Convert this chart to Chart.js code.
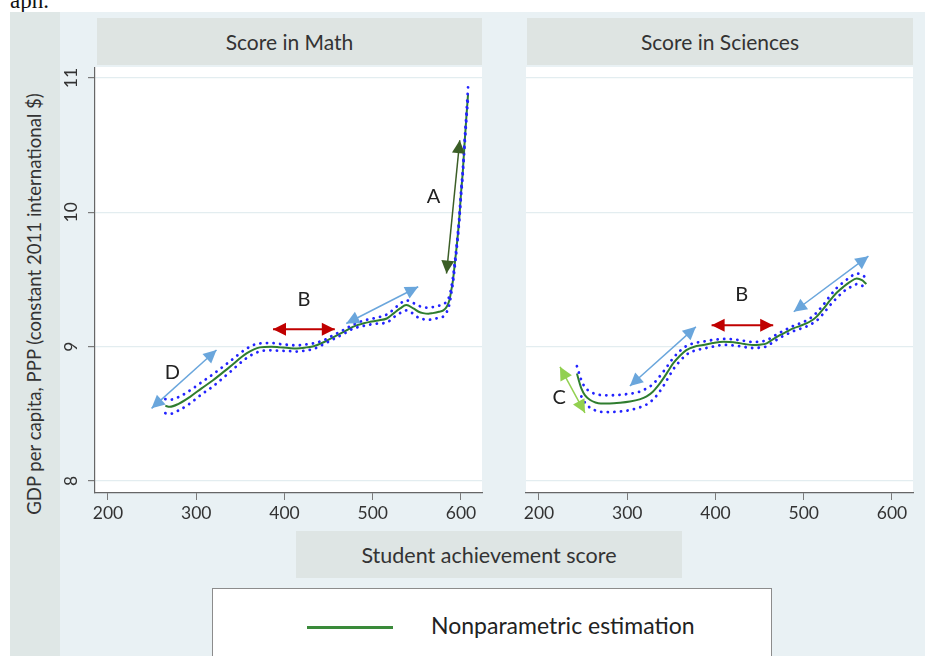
<!DOCTYPE html>
<html>
<head>
<meta charset="utf-8">
<script src="https://cdn.jsdelivr.net/npm/chart.js@4.4.1/dist/chart.umd.min.js"></script>
<style>
  html, body { margin: 0; padding: 0; background: #ffffff; width: 925px; height: 656px; overflow: hidden; position: relative; font-family: Lato, "Open Sans", sans-serif; }
  .abs { position: absolute; }
  #cut { left: 10px; top: -11px; font: 23px "Liberation Serif", serif; line-height: 23px; color: #111; }
  #fig { left: 10px; top: 12px; width: 915px; height: 644px; background: #e9f1f4; }
  #ybox { left: 10px; top: 12px; width: 50px; height: 644px; background: #dfe7e6; }
  #ytitle { left: 34px; top: 304px; transform: translate(-50%, -50%) rotate(-90deg); white-space: nowrap; font-size: 18.6px; color: #333; }
  .hdr { top: 18px; height: 47px; background: #dee4e2; color: #333; font-size: 21px; display: flex; align-items: center; justify-content: center; }
  .white { top: 67px; height: 426px; background: #ffffff; }
  #xbox { left: 296px; top: 531px; width: 386px; height: 47px; background: #dee5e4; color: #333; font-size: 21.5px; display: flex; align-items: center; justify-content: center; }
  #legend { left: 212px; top: 588px; width: 558px; height: 90px; background: #ffffff; border: 1px solid #8c8c8c; }
  #legline { left: 94px; top: 37px; width: 86px; height: 3px; background: #3a8a3a; }
  #legtext { left: 218px; top: 22px; font-size: 23px; color: #222; white-space: nowrap; }
  canvas { position: absolute; }
</style>
</head>
<body>
<div class="abs" id="cut">aph.</div>
<div class="abs" id="fig"></div>
<div class="abs" id="ybox"></div>
<div class="abs" id="ytitle">GDP per capita, PPP (constant 2011 international $)</div>
<div class="abs hdr" style="left:97px;width:385px;">Score in Math</div>
<div class="abs hdr" style="left:527px;width:386px;">Score in Sciences</div>
<div class="abs white" style="left:95px;width:387px;"></div>
<div class="abs white" style="left:526px;width:387px;"></div>
<div class="abs" id="xbox">Student achievement score</div>
<div class="abs" id="legend">
  <div class="abs" id="legline"></div>
  <div class="abs" id="legtext">Nonparametric estimation</div>
</div>
<canvas id="cMath" width="425" height="463" style="left:60px;top:67px;width:425px;height:463px;"></canvas>
<canvas id="cSci" width="425" height="463" style="left:491px;top:67px;width:425px;height:463px;"></canvas>
<script>
// ---------- data ----------
const xTicks = [200, 300, 400, 500, 600];
const yTicks = [8, 9, 10, 11];

const mathX     = [265, 270, 280, 293, 306, 319, 338, 357, 372, 385, 395, 405, 414, 425, 433, 445, 455, 467, 478, 490, 497, 506, 516, 524, 531, 538, 546, 552, 557, 563, 568, 575, 580, 584, 587, 589, 591, 593, 595, 598, 600, 602, 604, 606, 608];
const mathFit   = [8.56, 8.553, 8.575, 8.627, 8.69, 8.75, 8.85, 8.95, 8.995, 9.0, 8.995, 8.99, 8.987, 8.995, 9.004, 9.035, 9.07, 9.11, 9.15, 9.175, 9.185, 9.195, 9.21, 9.25, 9.285, 9.31, 9.285, 9.26, 9.25, 9.245, 9.25, 9.26, 9.27, 9.3, 9.35, 9.42, 9.5, 9.62, 9.74, 9.95, 10.14, 10.3, 10.51, 10.7, 10.88];
const mathUpper = [8.61, 8.605, 8.625, 8.675, 8.735, 8.795, 8.89, 8.985, 9.025, 9.027, 9.02, 9.013, 9.01, 9.017, 9.025, 9.05, 9.085, 9.125, 9.165, 9.195, 9.205, 9.218, 9.24, 9.28, 9.32, 9.345, 9.325, 9.305, 9.295, 9.29, 9.295, 9.305, 9.315, 9.34, 9.38, 9.44, 9.52, 9.63, 9.75, 9.96, 10.15, 10.31, 10.52, 10.72, 10.93];
const mathLower = [8.505, 8.5, 8.525, 8.578, 8.645, 8.705, 8.81, 8.915, 8.965, 8.973, 8.97, 8.967, 8.964, 8.973, 8.983, 9.02, 9.055, 9.095, 9.135, 9.155, 9.165, 9.172, 9.18, 9.22, 9.25, 9.27, 9.245, 9.215, 9.205, 9.2, 9.205, 9.215, 9.225, 9.26, 9.32, 9.4, 9.48, 9.6, 9.72, 9.93, 10.12, 10.28, 10.49, 10.68, 10.85];

const sciX     = [243, 246, 248, 252, 258, 264, 270, 280, 292, 303, 314, 322, 329, 335, 341, 347, 352, 360, 367, 376, 386, 397, 409, 416, 424, 433, 443, 450, 458, 465, 473, 480, 488, 496, 503, 509, 514, 522, 530, 537, 545, 552, 560, 566, 571];
const sciFit   = [8.80, 8.73, 8.69, 8.64, 8.603, 8.585, 8.578, 8.578, 8.583, 8.592, 8.608, 8.63, 8.665, 8.71, 8.764, 8.825, 8.876, 8.935, 8.975, 9.0, 9.012, 9.027, 9.037, 9.035, 9.03, 9.02, 9.012, 9.015, 9.025, 9.055, 9.086, 9.11, 9.136, 9.155, 9.173, 9.195, 9.22, 9.28, 9.347, 9.4, 9.446, 9.48, 9.508, 9.495, 9.466];
const sciUpper = [8.855, 8.79, 8.75, 8.7, 8.665, 8.648, 8.64, 8.638, 8.642, 8.65, 8.665, 8.69, 8.72, 8.765, 8.815, 8.87, 8.915, 8.97, 9.005, 9.027, 9.038, 9.05, 9.058, 9.057, 9.052, 9.043, 9.035, 9.038, 9.048, 9.075, 9.104, 9.128, 9.154, 9.175, 9.195, 9.22, 9.25, 9.31, 9.38, 9.435, 9.48, 9.515, 9.545, 9.535, 9.51];
const sciLower = [null, null, 8.63, 8.585, 8.545, 8.525, 8.515, 8.513, 8.518, 8.528, 8.548, 8.57, 8.605, 8.65, 8.708, 8.775, 8.83, 8.895, 8.94, 8.97, 8.985, 9.0, 9.013, 9.012, 9.007, 8.997, 8.99, 8.993, 9.002, 9.033, 9.066, 9.09, 9.115, 9.133, 9.15, 9.17, 9.19, 9.245, 9.31, 9.36, 9.41, 9.44, 9.465, 9.455, 9.42];

// annotation arrows: [x1, y1, x2, y2] in data units, and their kinds
const mathArrows     = [[249.4, 8.541, 323, 8.975], [387, 9.13, 457, 9.13], [470, 9.173, 551.5, 9.446], [598.6, 10.537, 583.6, 9.545]];
const mathArrowKinds = ['blue', 'red', 'blue', 'dark'];
const mathLabels     = ['D', 'B', 'A'];
const mathLabelPos   = [[273, 8.81], [422, 9.35], [569, 10.115]];

const sciArrows      = [[223.8, 8.85, 252.1, 8.508], [303, 8.707, 377.8, 9.148], [395.6, 9.16, 465.4, 9.16], [488.7, 9.26, 573.3, 9.674]];
const sciArrowKinds  = ['light', 'blue', 'red', 'blue'];
const sciLabels      = ['C', 'B'];
const sciLabelPos    = [[223, 8.623], [429.6, 9.39]];

// ---------- styles ----------
const FONT = 'Lato, "Open Sans", sans-serif';
const arrowStyle = {
  blue:  { color: '#6aa6dc', width: 1.5 },
  red:   { color: '#c00000', width: 2 },
  dark:  { color: '#3b5e26', width: 1.5 },
  light: { color: '#92d050', width: 1.5 }
};

function pts(xs, ys) { return xs.map((x, i) => ({ x: x, y: ys[i] })); }

function arrowPlugin(arrows, kinds, labels, labelPos) {
  return {
    id: 'arrows',
    afterDatasetsDraw(chart) {
      const { ctx, scales: { x, y } } = chart;
      ctx.save();
      arrows.forEach((a, i) => {
        const st = arrowStyle[kinds[i]];
        const p1 = [x.getPixelForValue(a[0]), y.getPixelForValue(a[1])];
        const p2 = [x.getPixelForValue(a[2]), y.getPixelForValue(a[3])];
        [[p1, p2], [p2, p1]].forEach(([tip, from]) => {
          const ang = Math.atan2(tip[1] - from[1], tip[0] - from[0]);
          const L = 13, W = 6.5;
          ctx.beginPath();
          ctx.moveTo(tip[0], tip[1]);
          ctx.lineTo(tip[0] - L * Math.cos(ang) + W * Math.sin(ang), tip[1] - L * Math.sin(ang) - W * Math.cos(ang));
          ctx.lineTo(tip[0] - L * Math.cos(ang) - W * Math.sin(ang), tip[1] - L * Math.sin(ang) + W * Math.cos(ang));
          ctx.closePath();
          ctx.fillStyle = st.color;
          ctx.fill();
        });
      });
      ctx.fillStyle = '#222';
      ctx.font = '20px ' + FONT;
      ctx.textAlign = 'center';
      ctx.textBaseline = 'middle';
      labels.forEach((t, i) => {
        ctx.fillText(t, x.getPixelForValue(labelPos[i][0]), y.getPixelForValue(labelPos[i][1]));
      });
      ctx.restore();
    }
  };
}

function makeChart(id, X, fit, up, lo, arrows, kinds, labels, labelPos, showY) {
  const datasets = [
    { data: pts(X, up), borderColor: '#2323ff', borderWidth: 2.8, borderDash: [0.1, 6.5], borderCapStyle: 'round', pointRadius: 0, cubicInterpolationMode: 'monotone', spanGaps: false },
    { data: pts(X, lo), borderColor: '#2323ff', borderWidth: 2.8, borderDash: [0.1, 6.5], borderCapStyle: 'round', pointRadius: 0, cubicInterpolationMode: 'monotone', spanGaps: false },
    { data: pts(X, fit), borderColor: '#2f7d2f', borderWidth: 2, pointRadius: 0, cubicInterpolationMode: 'monotone' }
  ];
  arrows.forEach((a, i) => {
    const st = arrowStyle[kinds[i]];
    datasets.push({ data: [{ x: a[0], y: a[1] }, { x: a[2], y: a[3] }], borderColor: st.color, borderWidth: st.width, pointRadius: 0, tension: 0 });
  });
  return new Chart(document.getElementById(id), {
    type: 'line',
    data: { datasets: datasets },
    options: {
      responsive: false,
      animation: false,
      devicePixelRatio: 1,
      layout: { padding: { top: 0, right: 3, bottom: 0, left: 0 } },
      plugins: { legend: { display: false }, tooltip: { enabled: false }, title: { display: false } },
      elements: { line: { fill: false } },
      scales: {
        x: {
          type: 'linear', min: 185.3, max: 623.8,
          afterBuildTicks: s => { s.ticks = xTicks.map(v => ({ value: v })); },
          afterFit: s => { s.height = 37; s.paddingLeft = 0; s.paddingRight = 0; },
          grid: { drawOnChartArea: false, drawTicks: true, tickLength: 7, tickColor: '#7a7a7a', tickWidth: 1 },
          border: { display: true, color: '#666', width: 1.2 },
          ticks: { color: '#333', font: { family: FONT, size: 17.5 }, padding: 3, maxRotation: 0 }
        },
        y: {
          type: 'linear', min: 7.911, max: 11.082,
          afterBuildTicks: s => { s.ticks = yTicks.map(v => ({ value: v })); },
          afterFit: s => { s.width = 35; s.paddingTop = 0; s.paddingBottom = 0; },
          grid: { drawOnChartArea: true, color: '#e3edf0', lineWidth: 1.2, drawTicks: showY, tickLength: 7, tickColor: '#7a7a7a' },
          border: { display: showY, color: '#666', width: 1.2 },
          ticks: { display: showY, color: '#333', font: { family: FONT, size: 17.5 }, minRotation: 90, maxRotation: 90, crossAlign: 'center', padding: 6 }
        }
      }
    },
    plugins: [arrowPlugin(arrows, kinds, labels, labelPos)]
  });
}

makeChart('cMath', mathX, mathFit, mathUpper, mathLower, mathArrows, mathArrowKinds, mathLabels, mathLabelPos, true);
makeChart('cSci', sciX, sciFit, sciUpper, sciLower, sciArrows, sciArrowKinds, sciLabels, sciLabelPos, false);
</script>
</body>
</html>
